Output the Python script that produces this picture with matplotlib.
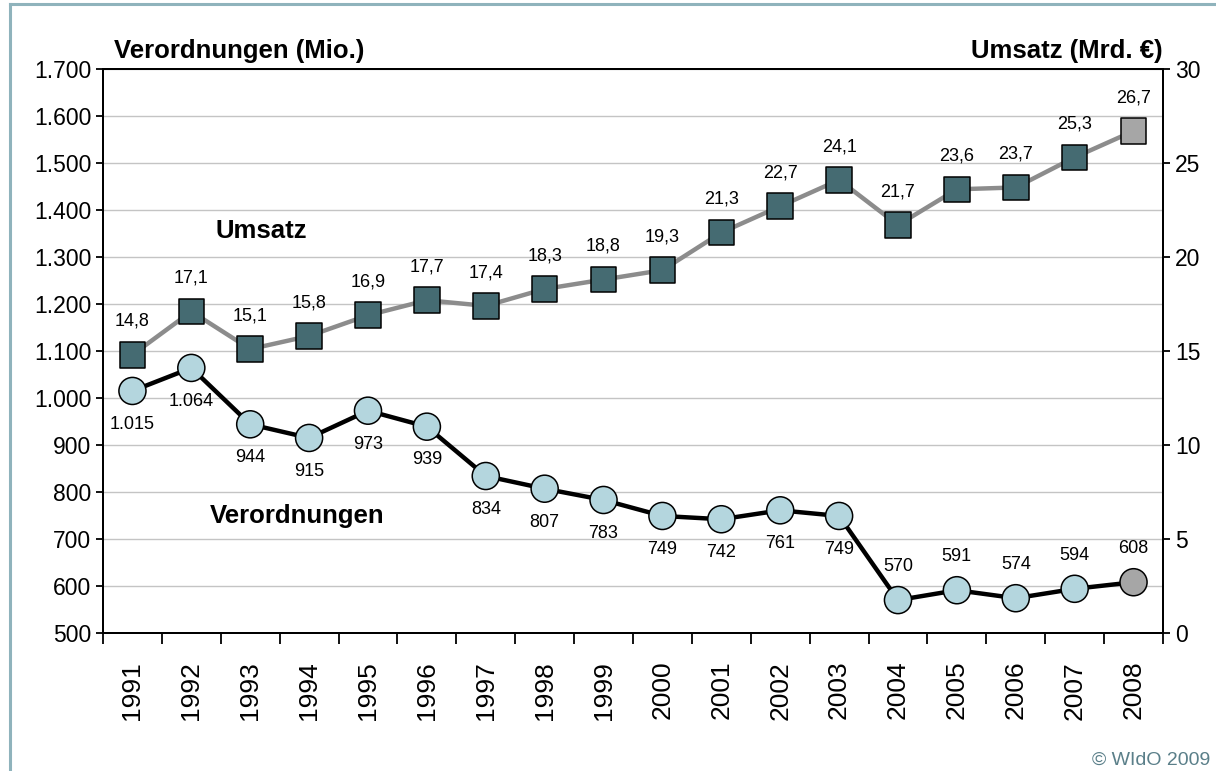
import numpy as np
import matplotlib
matplotlib.use('Agg')
import matplotlib.pyplot as plt
from matplotlib.ticker import FuncFormatter, FixedLocator
from matplotlib.lines import Line2D

plt.rcParams['font.family'] = ['Liberation Sans', 'DejaVu Sans']

# Daten
jahre = [str(j) for j in range(1991, 2009)]
verordnungen = [1015, 1064, 944, 915, 973, 939, 834, 807, 783, 749,
                742, 761, 749, 570, 591, 574, 594, 608]
umsatz = [14.8, 17.1, 15.1, 15.8, 16.9, 17.7, 17.4, 18.3, 18.8, 19.3,
          21.3, 22.7, 24.1, 21.7, 23.6, 23.7, 25.3, 26.7]
vo_labels = ['1.015', '1.064', '944', '915', '973', '939', '834', '807', '783', '749',
             '742', '761', '749', '570', '591', '574', '594', '608']
ums_labels = ['14,8', '17,1', '15,1', '15,8', '16,9', '17,7', '17,4', '18,3', '18,8', '19,3',
              '21,3', '22,7', '24,1', '21,7', '23,6', '23,7', '25,3', '26,7']

x = np.arange(len(jahre))

fig = plt.figure(figsize=(12.16, 7.71), dpi=100)
ax1 = fig.add_axes([0.0847, 0.179, 0.8717, 0.7315])
ax2 = ax1.twinx()

# Rahmen
rahmen = '#8FB3BC'
fig.add_artist(Line2D([10/1216, 10/1216], [0, 1 - 4/771], color=rahmen, lw=2.2, transform=fig.transFigure))
fig.add_artist(Line2D([10/1216, 1], [1 - 4/771, 1 - 4/771], color=rahmen, lw=2.2, transform=fig.transFigure))

# linke Achse: Verordnungen
ax1.set_xlim(-0.5, len(jahre) - 0.5)
ax1.set_ylim(500, 1700)
ax1.set_yticks(np.arange(500, 1701, 100))
ax1.yaxis.set_major_formatter(FuncFormatter(lambda v, p: f'{int(v):,}'.replace(',', '.')))
ax1.grid(axis='y', color='#C4C4C4', lw=1)
ax1.set_axisbelow(True)

ax1.plot(x, verordnungen, color='black', lw=3.2, zorder=3)
farben_vo = ['#B4D6DE'] * (len(x) - 1) + ['#A6A6A6']
ax1.scatter(x, verordnungen, s=380, c=farben_vo, edgecolors='black', linewidths=1.1, zorder=4)
for i, (v, t) in enumerate(zip(verordnungen, vo_labels)):
    dy = 24 if i >= 13 else -24
    ax1.annotate(t, (i, v), xytext=(0, dy), textcoords='offset points',
                 ha='center', va='center', fontsize=13)

# rechte Achse: Umsatz
ax2.set_ylim(0, 30)
ax2.set_yticks(np.arange(0, 31, 5))
ax2.plot(x, umsatz, color='#8C8C8C', lw=3.2, zorder=3)
farben_u = ['#456B72'] * (len(x) - 1) + ['#A6A6A6']
ax2.scatter(x, umsatz, s=340, marker='s', c=farben_u, edgecolors='black', linewidths=1.1, zorder=4)
for i, (v, t) in enumerate(zip(umsatz, ums_labels)):
    ax2.annotate(t, (i, v), xytext=(0, 24), textcoords='offset points',
                 ha='center', va='center', fontsize=13)

# x-Achse
ax1.set_xticks(x)
ax1.set_xticklabels(jahre, rotation=90, fontsize=19)
ax1.xaxis.set_minor_locator(FixedLocator(np.arange(-0.5, len(jahre), 1)))
ax1.tick_params(axis='x', which='major', length=0, pad=20)
ax1.tick_params(axis='x', which='minor', length=8, width=1.3, direction='out')
ax1.tick_params(axis='y', length=5, width=1.3, labelsize=16.5)
ax2.tick_params(axis='y', length=5, width=1.3, labelsize=16.5)

for a in (ax1, ax2):
    for s in a.spines.values():
        s.set_linewidth(1.4)

# Beschriftungen
ax1.text(0.01, 1.01, 'Verordnungen (Mio.)', transform=ax1.transAxes,
         fontsize=18.5, fontweight='bold', ha='left', va='bottom')
ax1.text(1.0, 1.01, 'Umsatz (Mrd. €)', transform=ax1.transAxes,
         fontsize=18.5, fontweight='bold', ha='right', va='bottom')
ax1.text(0.106, 0.713, 'Umsatz', transform=ax1.transAxes,
         fontsize=18.5, fontweight='bold', ha='left', va='center')
ax1.text(0.101, 0.207, 'Verordnungen', transform=ax1.transAxes,
         fontsize=18.5, fontweight='bold', ha='left', va='center')
fig.text(0.995, 0.014, '© WIdO 2009', color='#5A7F89', fontsize=14, ha='right', va='center')

plt.savefig('out.png', dpi=100)
